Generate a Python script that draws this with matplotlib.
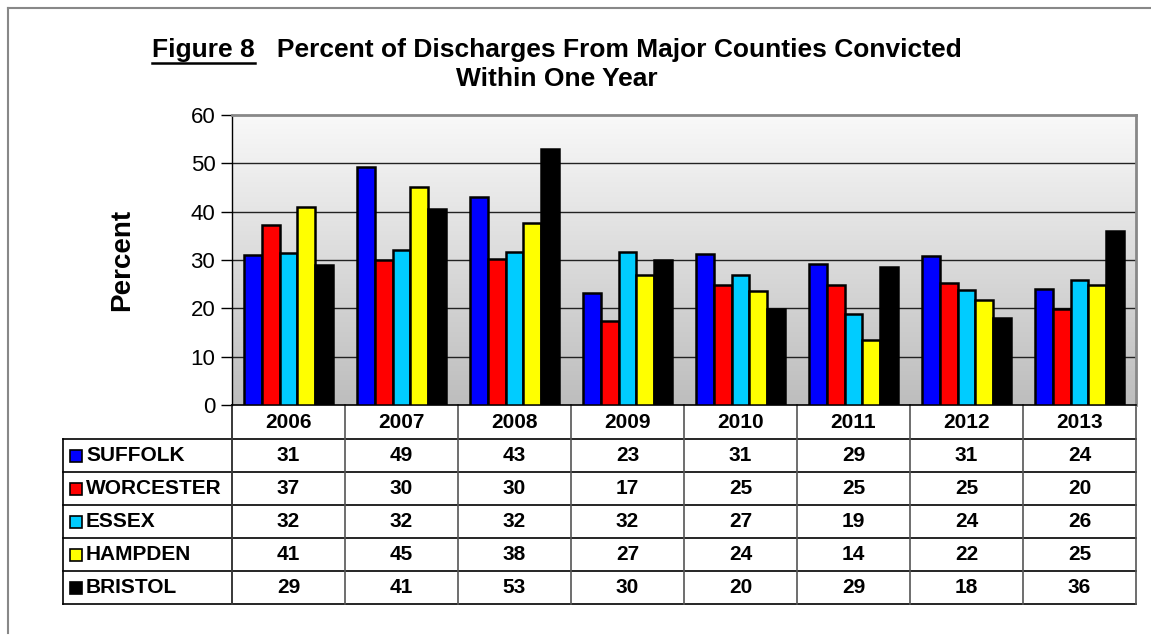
import numpy as np
import matplotlib
matplotlib.use("Agg")
import matplotlib.pyplot as plt
from matplotlib import transforms
from matplotlib.lines import Line2D
from matplotlib.patches import Rectangle
from matplotlib.colors import LinearSegmentedColormap

plt.rcParams['font.family'] = ['Liberation Sans', 'DejaVu Sans']

years = ["2006", "2007", "2008", "2009", "2010", "2011", "2012", "2013"]
counties = ["SUFFOLK", "WORCESTER", "ESSEX", "HAMPDEN", "BRISTOL"]
colors = ["#0000ff", "#ff0000", "#00ccff", "#ffff00", "#000000"]

suffolk   = [31.0, 49.2, 43.1, 23.2, 31.3, 29.2, 30.8, 23.9]
worcester = [37.2, 30.1, 30.3, 17.3, 24.9, 24.9, 25.2, 19.9]
essex     = [31.5, 32.0, 31.7, 31.7, 26.9, 18.8, 23.7, 25.9]
hampden   = [40.9, 45.2, 37.7, 27.0, 23.5, 13.4, 21.7, 24.8]
bristol   = [29.0, 40.5, 52.9, 30.1, 19.9, 28.6, 18.1, 36.0]

suffolk_tab   = [31, 49, 43, 23, 31, 29, 31, 24]
worcester_tab = [37, 30, 30, 17, 25, 25, 25, 20]
essex_tab     = [32, 32, 32, 32, 27, 19, 24, 26]
hampden_tab   = [41, 45, 38, 27, 24, 14, 22, 25]
bristol_tab   = [29, 41, 53, 30, 20, 29, 18, 36]

series = [suffolk, worcester, essex, hampden, bristol]
table_vals = [suffolk_tab, worcester_tab, essex_tab, hampden_tab, bristol_tab]

W, H = 1151, 635
fig = plt.figure(figsize=(W / 100, H / 100), dpi=100)
fig.patch.set_facecolor("white")

# plot area in pixels
L, R, T, B = 232, 1136, 115, 405
ax = fig.add_axes([L / W, (H - B) / H, (R - L) / W, (B - T) / H])

# gradient background
grad = np.linspace(0, 1, 256).reshape(-1, 1)
cmap = LinearSegmentedColormap.from_list("bg", ["#bdbdbd", "#f9f9f9"])
ax.imshow(grad, extent=[0, 1, 0, 1], transform=ax.transAxes, cmap=cmap,
          origin="lower", aspect="auto", zorder=0)

n = len(years)
x = np.arange(n)
bw = 0.156
for i, (vals, c) in enumerate(zip(series, colors)):
    ax.bar(x + (i - 2) * bw, vals, width=bw, color=c, edgecolor="black",
           linewidth=1.8, zorder=3)

ax.set_xlim(-0.5, n - 0.5)
ax.set_ylim(0, 60)
ax.set_yticks(range(0, 61, 10))
ax.set_xticks([])
for yv in range(10, 60, 10):
    ax.axhline(yv, color="#222222", lw=1.0, zorder=1)
ax.tick_params(axis="y", direction="out", length=8, width=1, labelsize=16, pad=4)
for s in ["top", "right"]:
    ax.spines[s].set_color("#888888")
    ax.spines[s].set_linewidth(2)
ax.spines["left"].set_color("black")
ax.spines["left"].set_linewidth(1)
ax.spines["bottom"].set_color("black")
ax.spines["bottom"].set_linewidth(1.2)
ax.set_ylabel("Percent", fontsize=20, fontweight="bold", labelpad=40)

# table below the axis
ph = B - T
row_h = 33 / ph
hdr_h = 34 / ph
tr = transforms.blended_transform_factory(ax.transData, ax.transAxes)
leg_left = (63 - L) / (R - L)
n_rows = len(counties)
tab_bottom = -hdr_h - n_rows * row_h
tfs = 15

for j, yr in enumerate(years):
    ax.text(x[j], -hdr_h / 2, yr, transform=tr, ha="center", va="center",
            fontsize=tfs, fontweight="bold", clip_on=False)
for i in range(n_rows):
    yc = -hdr_h - (i + 0.5) * row_h
    for j in range(n):
        ax.text(x[j], yc, str(table_vals[i][j]), transform=tr, ha="center",
                va="center", fontsize=tfs, fontweight="bold", clip_on=False)
    ax.text(leg_left + 23 / (R - L), yc, counties[i], transform=ax.transAxes,
            ha="left", va="center", fontsize=tfs, fontweight="bold", clip_on=False)
    ax.add_patch(Rectangle((leg_left + 7 / (R - L), yc - 6 / ph), 12 / (R - L), 12 / ph,
                           transform=ax.transAxes, facecolor=colors[i],
                           edgecolor="black", lw=1.2, clip_on=False, zorder=5))

for i in range(n_rows + 1):
    yl = -hdr_h - i * row_h
    ax.add_line(Line2D([leg_left, 1], [yl, yl], transform=ax.transAxes,
                       color="black", lw=1.2, clip_on=False))
for j in range(n + 1):
    ax.add_line(Line2D([x[0] - 0.5 + j, x[0] - 0.5 + j], [0, tab_bottom], transform=tr,
                       color="#555555", lw=1.2, clip_on=False))
ax.add_line(Line2D([leg_left, leg_left], [-hdr_h, tab_bottom], transform=ax.transAxes,
                   color="black", lw=1.2, clip_on=False))
ax.add_line(Line2D([0, 0], [0, tab_bottom], transform=ax.transAxes,
                   color="#333333", lw=1.2, clip_on=False))

# outer frame (top and left)
fig.add_artist(Line2D([8 / W, 1], [1 - 8 / H, 1 - 8 / H], transform=fig.transFigure,
                      color="#888888", lw=1.5))
fig.add_artist(Line2D([8 / W, 8 / W], [1 - 8 / H, 1 - 633 / H], transform=fig.transFigure,
                      color="#888888", lw=1.5))

# title
cx = 557 / W
tfs_t = 19
t1 = fig.text(cx, 1 - 50 / H, "Figure 8   Percent of Discharges From Major Counties Convicted",
              ha="center", va="center", fontsize=tfs_t, fontweight="bold")
fig.text(cx, 1 - 79 / H, "Within One Year", ha="center", va="center",
         fontsize=tfs_t, fontweight="bold")
fig.canvas.draw()
r = fig.canvas.get_renderer()
bb = t1.get_window_extent(r)
tmp = fig.text(0, 0, "Figure 8", fontsize=tfs_t, fontweight="bold")
wb = tmp.get_window_extent(r)
tmp.remove()
uy = bb.y0 - 1
fig.add_artist(Line2D([bb.x0 / W, (bb.x0 + wb.width) / W], [uy / H, uy / H],
                      transform=fig.transFigure, color="black", lw=1.8))

fig.savefig("out.png", dpi=100)
